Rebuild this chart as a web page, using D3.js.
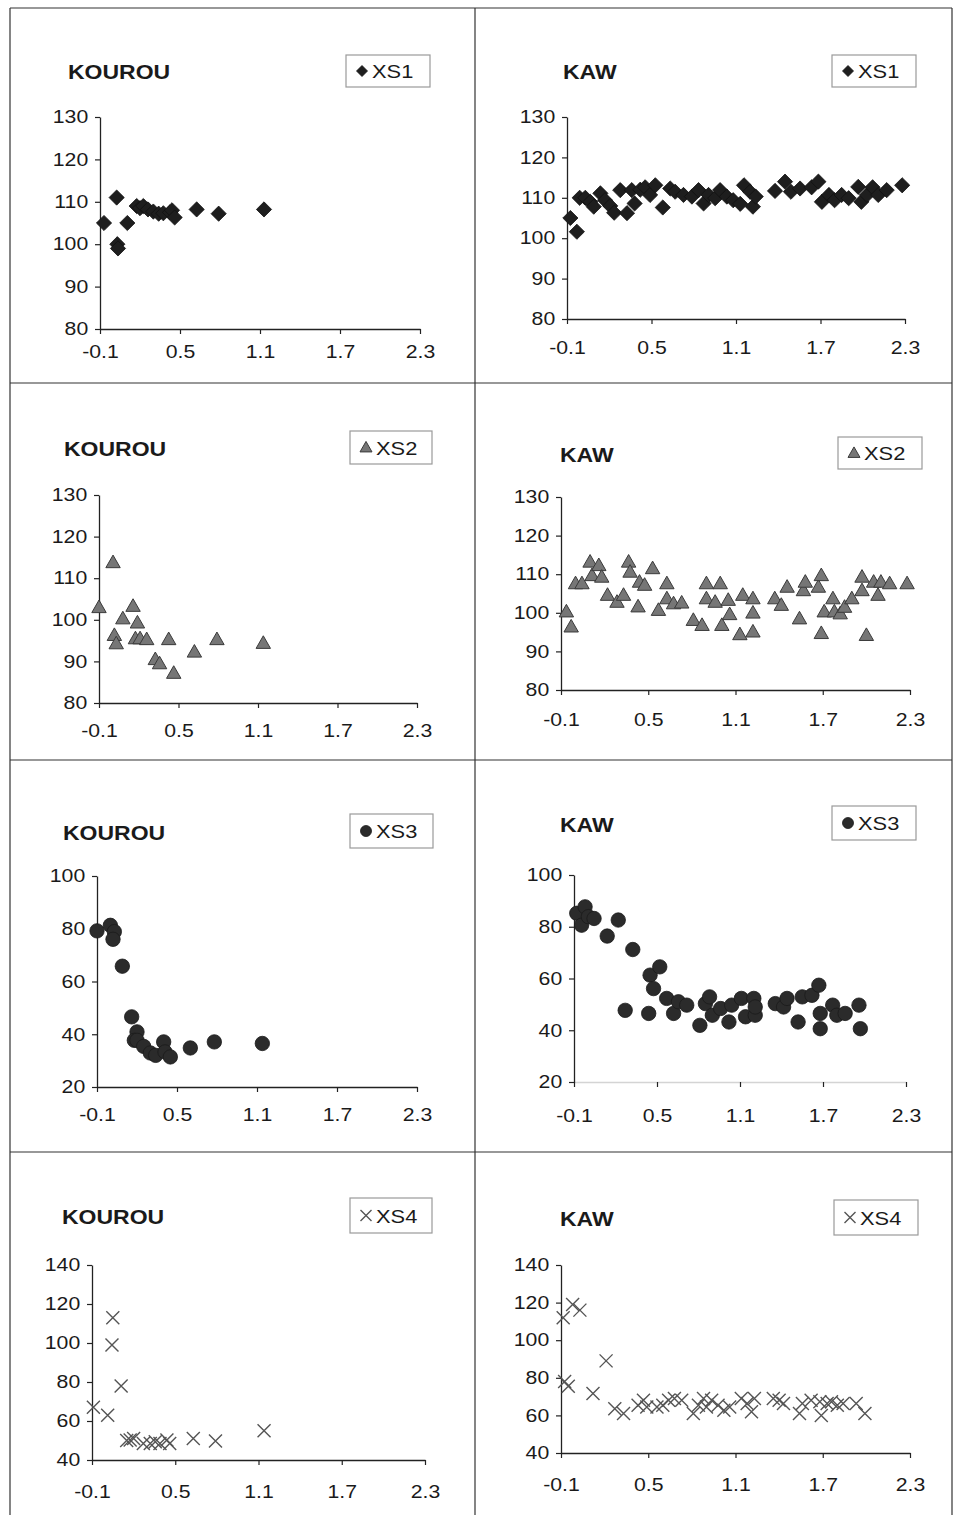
<!DOCTYPE html>
<html>
<head>
<meta charset="utf-8">
<script src="https://cdn.jsdelivr.net/npm/d3@7"></script>
<style>
  body { margin: 0; background: #fff; }
  svg { display: block; }
  text { font-family: "Liberation Sans", Arial, sans-serif; fill: #1a1a1a; }
</style>
</head>
<body>
<div id="chart"></div>
<script>
// ---- data (x, y) ----
const xTicks = [-0.1, 0.5, 1.1, 1.7, 2.3];
const yTicksXS12 = [80, 90, 100, 110, 120, 130];
const yTicksXS3 = [20, 40, 60, 80, 100];
const yTicksXS4 = [40, 60, 80, 100, 120, 140];

const kourouXS1 = [[-0.07,105],[0.025,111],[0.03,100],[0.035,99],[0.105,105],[0.175,109],[0.2,108.5],
  [0.225,109],[0.26,108.2],[0.3,107.7],[0.34,107.2],[0.375,107.3],[0.425,107.5],[0.44,108],[0.46,106.3],
  [0.625,108.2],[0.79,107.2],[1.13,108.2]];

const kawXS1 = [[-0.076,105],[-0.03,101.6],[-0.01,110],[0.03,110],[0.065,109],[0.09,107.8],[0.137,111.1],
  [0.17,109.4],[0.207,108],[0.235,106.3],[0.278,111.9],[0.326,106.2],[0.36,111.9],[0.38,108.6],[0.42,112],
  [0.455,112.6],[0.49,110.7],[0.527,113.1],[0.58,107.6],[0.633,112.3],[0.668,111.5],[0.727,110.7],[0.787,110.3],
  [0.834,111.9],[0.87,108.6],[0.905,110.7],[0.952,109.9],[0.987,111.9],[1.035,110.3],[1.08,109.4],[1.13,108.5],
  [1.157,113.1],[1.2,111.5],[1.22,107.8],[1.24,110.3],[1.377,111.7],[1.448,114],[1.49,111.5],[1.555,112.3],
  [1.637,112.6],[1.685,114],[1.71,109],[1.76,110.7],[1.8,109.4],[1.85,110.7],[1.9,109.9],[1.968,112.7],
  [1.99,109],[2.03,110.7],[2.07,112.6],[2.11,110.7],[2.17,111.9],[2.28,113.1]];

const kourouXS2 = [[-0.1,103],[0.006,113.8],[0.016,96.3],[0.03,94.3],[0.08,100.3],[0.157,103.3],[0.19,99.3],
  [0.175,95.5],[0.21,95.5],[0.26,95.3],[0.325,90.5],[0.357,89.5],[0.426,95.3],[0.464,87.2],[0.62,92.3],
  [0.79,95.3],[1.14,94.4]];

const kawXS2 = [[-0.063,100.3],[-0.03,96.4],[0,107.6],[0.044,107.6],[0.1,113.2],[0.113,109.7],[0.16,112.3],
  [0.18,109.3],[0.22,104.6],[0.285,102.8],[0.33,104.6],[0.365,113.2],[0.375,110.6],[0.43,101.6],[0.44,108],
  [0.475,107.2],[0.53,111.5],[0.57,100.7],[0.628,107.6],[0.628,103.7],[0.674,102.4],[0.73,102.6],[0.81,98.1],
  [0.87,96.8],[0.9,107.6],[0.9,103.7],[0.96,102.8],[0.995,107.6],[1.006,96.8],[1.05,103.3],[1.06,99.6],
  [1.13,94.4],[1.15,104.6],[1.22,103.7],[1.22,100],[1.22,95.1],[1.37,103.7],[1.415,102],[1.455,106.7],
  [1.54,98.5],[1.567,105.8],[1.58,108],[1.67,106.7],[1.69,109.7],[1.69,94.7],[1.71,100.3],[1.77,103.7],
  [1.78,100.3],[1.82,99.8],[1.85,101.5],[1.9,103.7],[1.97,109.3],[1.97,105.8],[2.0,94.2],[2.05,108],
  [2.08,104.6],[2.1,108],[2.16,107.6],[2.28,107.6]];

const kourouXS3 = [[-0.1,79.2],[0,81.3],[0.03,78.9],[0.02,76],[0.09,65.8],[0.16,46.6],[0.2,40.9],[0.18,37.7],
  [0.2,37.7],[0.25,35.4],[0.3,32.9],[0.34,32],[0.4,37.1],[0.41,33.3],[0.45,31.4],[0.6,34.8],[0.78,37.1],
  [1.14,36.5]];

const kawXS3 = [[-0.08,85.2],[-0.045,80.6],[-0.02,87.7],[0.004,83.9],[0.045,83.2],[0.14,76.4],[0.22,82.6],
  [0.27,47.7],[0.325,71.2],[0.44,46.5],[0.45,61.3],[0.475,56.1],[0.52,64.5],[0.57,52.3],[0.62,46.5],
  [0.655,51],[0.715,49.7],[0.81,41.9],[0.85,50.3],[0.88,52.9],[0.9,45.8],[0.96,48.4],[1.02,43.2],[1.04,49.7],
  [1.11,52.3],[1.14,45.2],[1.2,52.3],[1.21,45.8],[1.21,49],[1.355,50.3],[1.415,49],[1.44,52.3],[1.52,43.2],
  [1.55,52.9],[1.62,53.5],[1.67,57.4],[1.68,40.6],[1.68,46.5],[1.77,49.7],[1.8,45.8],[1.86,46.5],[1.96,49.7],
  [1.97,40.6]];

const kourouXS4 = [[-0.09,67],[0.05,113],[0.044,99],[0.013,63],[0.11,78],[0.15,50],[0.175,50.3],[0.2,51],
  [0.27,48.5],[0.32,48.5],[0.356,49.4],[0.39,48.5],[0.44,50.3],[0.46,48.5],[0.63,51],[0.79,49.7],[1.14,55]];

const kawXS4 = [[-0.085,112],[-0.02,119],[0.03,116],[-0.075,78],[-0.05,75.5],[0.12,71.6],[0.21,89],[0.27,63.6],
  [0.33,61],[0.43,65.4],[0.467,68],[0.49,64.5],[0.56,64.5],[0.6,65.4],[0.64,68],[0.68,69],[0.73,68],[0.81,61],
  [0.845,65.4],[0.88,69],[0.9,64.5],[0.936,68],[0.98,65.4],[1.02,62.7],[1.06,64.5],[1.14,69],[1.18,66.3],
  [1.21,61.9],[1.23,69],[1.36,69],[1.4,68],[1.43,66.3],[1.54,61],[1.56,66.3],[1.62,68],[1.69,60],[1.68,67.2],
  [1.73,66.3],[1.76,67.2],[1.8,65.4],[1.84,66.3],[1.93,66.3],[1.99,61]];

// ---- layout of the 8 panels ----
const panels = [
  { site: "KOUROU", series: "XS1", data: kourouXS1, marker: "diamond", yTicks: yTicksXS12,
    plot: { l: 100, r: 420, t: 117, b: 329 }, title: [68, 79], legend: [346, 55, 84, 32], xGap: 11 },
  { site: "KAW", series: "XS1", data: kawXS1, marker: "diamond", yTicks: yTicksXS12,
    plot: { l: 567, r: 905, t: 117, b: 319 }, title: [563, 79], legend: [832, 55, 84, 32], xGap: 17 },
  { site: "KOUROU", series: "XS2", data: kourouXS2, marker: "triangle", yTicks: yTicksXS12,
    plot: { l: 99, r: 417, t: 495, b: 703 }, title: [64, 456], legend: [350, 431, 82, 33], xGap: 16 },
  { site: "KAW", series: "XS2", data: kawXS2, marker: "triangle", yTicks: yTicksXS12,
    plot: { l: 561, r: 910, t: 497, b: 690 }, title: [560, 462], legend: [838, 437, 84, 32], xGap: 18 },
  { site: "KOUROU", series: "XS3", data: kourouXS3, marker: "circle", yTicks: yTicksXS3,
    plot: { l: 97, r: 417, t: 876, b: 1087 }, title: [63, 840], legend: [350, 814, 83, 34], xGap: 16 },
  { site: "KAW", series: "XS3", data: kawXS3, marker: "circle", yTicks: yTicksXS3, faintX: true,
    plot: { l: 574, r: 906, t: 875, b: 1082 }, title: [560, 832], legend: [832, 806, 84, 34], xGap: 22 },
  { site: "KOUROU", series: "XS4", data: kourouXS4, marker: "cross", yTicks: yTicksXS4,
    plot: { l: 92, r: 425, t: 1265, b: 1460 }, title: [62, 1224], legend: [350, 1198, 82, 35], xGap: 20 },
  { site: "KAW", series: "XS4", data: kawXS4, marker: "cross", yTicks: yTicksXS4,
    plot: { l: 561, r: 910, t: 1265, b: 1453 }, title: [560, 1226], legend: [834, 1200, 84, 35], xGap: 20 }
];

const width = 953, height = 1515;
const stretch = "scale(1.18,1)";
// plain hyphen for negatives, as in the original
const fmtX = d => d3.format(".1f")(d).replace("\u2212", "-");

const svg = d3.select("#chart").append("svg")
  .attr("width", width).attr("height", height);

// frame around the grid of panels
const frame = svg.append("g").attr("stroke", "#333").attr("stroke-width", 1.2);
[[10, 8, 10, height], [952, 8, 952, height], [10, 8, 952, 8], [475, 8, 475, height],
 [10, 383, 952, 383], [10, 760, 952, 760], [10, 1152, 952, 1152]].forEach(([x1, y1, x2, y2]) =>
  frame.append("line").attr("x1", x1).attr("y1", y1).attr("x2", x2).attr("y2", y2));

// marker drawing
function drawMarker(sel, type, s) {
  if (type === "diamond") {
    sel.append("path")
      .attr("d", `M0,${-s}L${s},0L0,${s}L${-s},0Z`)
      .attr("fill", "#1e1e1e").attr("stroke", "#111").attr("stroke-width", 0.8);
  } else if (type === "triangle") {
    const h = s * 1.75;
    sel.append("path")
      .attr("d", `M0,${-h * 0.58}L${s},${h * 0.42}L${-s},${h * 0.42}Z`)
      .attr("fill", "#767676").attr("stroke", "#3a3a3a").attr("stroke-width", 1);
  } else if (type === "circle") {
    sel.append("circle").attr("r", s)
      .attr("fill", "#2b2b2b").attr("stroke", "#1a1a1a").attr("stroke-width", 0.8);
  } else {
    sel.append("path")
      .attr("d", `M${-s},${-s}L${s},${s}M${-s},${s}L${s},${-s}`)
      .attr("fill", "none").attr("stroke", "#555").attr("stroke-width", 1.4);
  }
}
const markerSize = { diamond: 7.6, triangle: 7.2, circle: 7.2, cross: 6.5 };

panels.forEach(p => {
  const g = svg.append("g");
  const x = d3.scaleLinear().domain([-0.1, 2.3]).range([p.plot.l, p.plot.r]);
  const y = d3.scaleLinear().domain(d3.extent(p.yTicks)).range([p.plot.b, p.plot.t]);

  // axes
  const xAxis = g.append("g")
    .attr("transform", `translate(0,${p.plot.b})`)
    .call(d3.axisBottom(x).tickValues(xTicks).tickFormat(fmtX)
      .tickSizeInner(5).tickSizeOuter(0).tickPadding(p.xGap));
  const yAxis = g.append("g")
    .attr("transform", `translate(${p.plot.l},0)`)
    .call(d3.axisLeft(y).tickValues(p.yTicks).tickFormat(d3.format("d"))
      .tickSizeInner(5).tickSizeOuter(0).tickPadding(5));

  [xAxis, yAxis].forEach(a => {
    a.select(".domain").attr("stroke", "#222").attr("stroke-width", 1.3);
    a.selectAll(".tick line").attr("stroke", "#222").attr("stroke-width", 1.2);
    a.selectAll(".tick text")
      .attr("font-size", 18).attr("font-family", "Liberation Sans, Arial, sans-serif")
      .attr("fill", "#222").attr("transform", stretch);
  });
  if (p.faintX) xAxis.select(".domain").attr("stroke", "#d4d4d4");

  // points
  g.append("g").selectAll("g")
    .data(p.data)
    .join("g")
    .attr("transform", d => `translate(${x(d[0])},${y(d[1])})`)
    .each(function () { drawMarker(d3.select(this), p.marker, markerSize[p.marker]); });

  // title
  g.append("text")
    .attr("transform", `translate(${p.title[0]},${p.title[1]}) scale(1.15,1)`)
    .attr("font-size", 20).attr("font-weight", "bold")
    .text(p.site);

  // legend box
  const [lx, ly, lw, lh] = p.legend;
  const lg = g.append("g").attr("transform", `translate(${lx},${ly})`);
  lg.append("rect").attr("width", lw).attr("height", lh)
    .attr("fill", "#fff").attr("stroke", "#9a9a9a").attr("stroke-width", 1.2);
  const lm = lg.append("g").attr("transform", `translate(16,${lh / 2})`);
  drawMarker(lm, p.marker, p.marker === "triangle" ? 6 : 5.5);
  lg.append("text")
    .attr("transform", `translate(26,${lh / 2 + 7}) scale(1.15,1)`)
    .attr("font-size", 19)
    .text(p.series);
});
</script>
</body>
</html>
